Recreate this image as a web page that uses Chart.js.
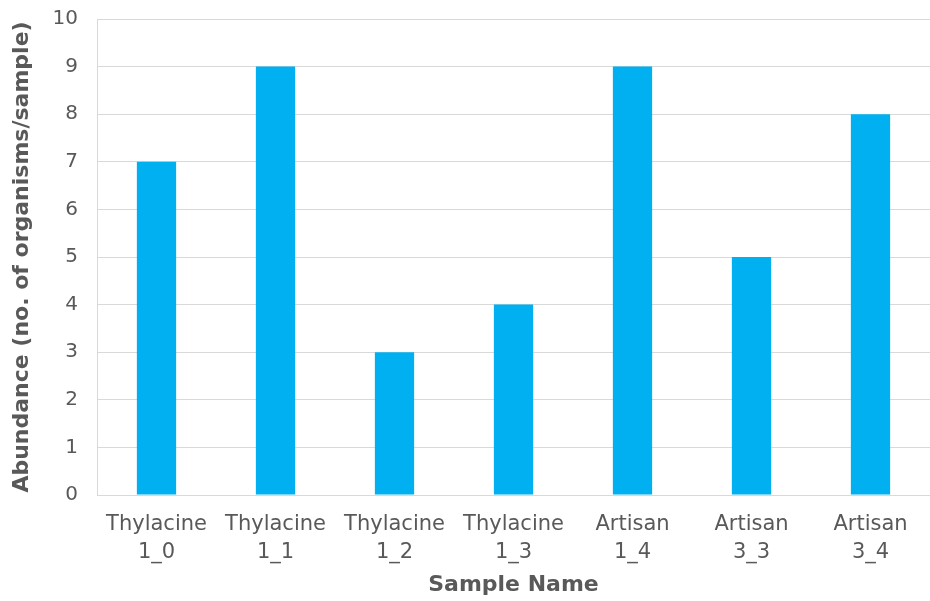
<!DOCTYPE html>
<html>
<head>
<meta charset="utf-8">
<script src="https://cdn.jsdelivr.net/npm/chart.js@4/dist/chart.umd.min.js"></script>
<style>
  html, body { margin: 0; padding: 0; background: #fff; }
  #wrap { width: 930px; height: 601px; position: relative; }
</style>
</head>
<body>
<div id="wrap"><canvas id="abundanceChart"></canvas></div>
<script>
const sampleNames = [
    ['Thylacine', '1_0'],
    ['Thylacine', '1_1'],
    ['Thylacine', '1_2'],
    ['Thylacine', '1_3'],
    ['Artisan', '1_4'],
    ['Artisan', '3_3'],
    ['Artisan', '3_4']
];
const abundance = [7, 9, 3, 4, 9, 5, 8];
const yTicks = [0, 1, 2, 3, 4, 5, 6, 7, 8, 9, 10];

const textColor = '#595959';
const gridColor = '#d9d9d9';
const fontFamily = '"DejaVu Sans", Verdana, sans-serif';

document.addEventListener('DOMContentLoaded', () => {
    const ctx = document.getElementById('abundanceChart').getContext('2d');

    new Chart(ctx, {
        type: 'bar',
        data: {
            labels: sampleNames,
            datasets: [{
                data: abundance,
                backgroundColor: '#00b0f0',
                borderWidth: 0,
                categoryPercentage: 1,
                barPercentage: 0.33
            }]
        },
        options: {
            responsive: true,
            maintainAspectRatio: false,
            animation: false,
            layout: { padding: { top: 19, right: 0, bottom: 0, left: 0 } },
            plugins: {
                legend: { display: false },
                tooltip: { enabled: false }
            },
            scales: {
                x: {
                    grid: { display: false, drawTicks: false },
                    border: { color: gridColor, width: 1 },
                    ticks: {
                        color: textColor,
                        font: { family: fontFamily, size: 21, lineHeight: 1.33 },
                        padding: 16,
                        maxRotation: 0,
                        autoSkip: false
                    },
                    title: {
                        display: true,
                        text: 'Sample Name',
                        color: textColor,
                        font: { family: fontFamily, size: 22, weight: 'bold' },
                        padding: { top: 0, bottom: 3 }
                    },
                    afterFit(scale) {
                        scale.height = 106;
                        scale.paddingLeft = 0;
                        scale.paddingRight = 0;
                    }
                },
                y: {
                    min: 0,
                    max: 10,
                    afterBuildTicks(scale) {
                        scale.ticks = yTicks.map(v => ({ value: v }));
                    },
                    grid: { color: gridColor, lineWidth: 1, drawTicks: false },
                    border: { color: gridColor, width: 1 },
                    ticks: {
                        color: textColor,
                        font: { family: fontFamily, size: 20 },
                        padding: 19
                    },
                    title: {
                        display: true,
                        text: 'Abundance (no. of organisms/sample)',
                        color: textColor,
                        font: { family: fontFamily, size: 22, weight: 'bold' },
                        padding: { top: 9, bottom: 0 }
                    },
                    afterFit(scale) {
                        scale.width = 97;
                        scale.paddingTop = 0;
                        scale.paddingBottom = 0;
                    }
                }
            }
        }
    });
});
</script>
</body>
</html>
